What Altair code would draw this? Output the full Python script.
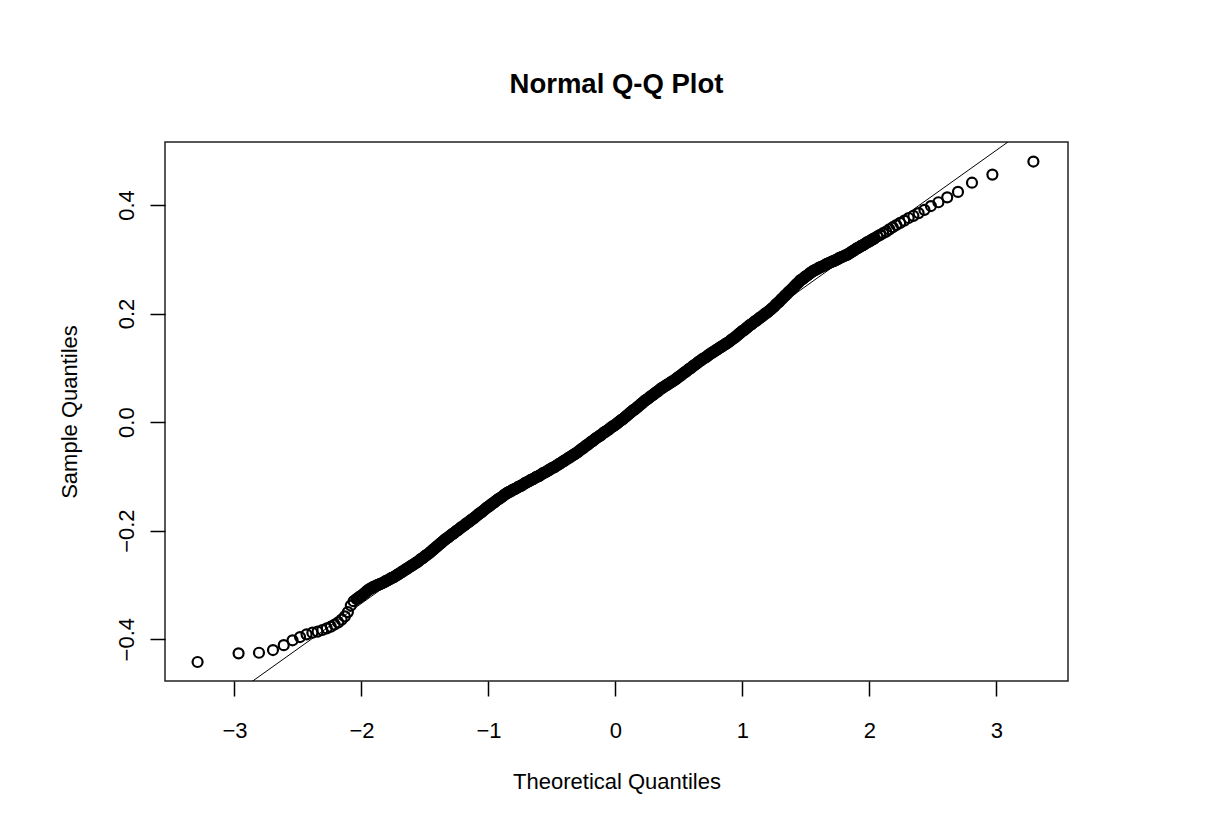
import altair as alt
import pandas as pd

# ---- data (theoretical vs sample quantiles) ----
left_tail_x = [-3.2905, -2.9677, -2.8070, -2.6968, -2.6121, -2.5427, -2.4838, -2.4324,
               -2.3867, -2.3456, -2.3081, -2.2735, -2.2414, -2.2114, -2.1831, -2.1564,
               -2.1311, -2.1070, -2.0840, -2.0619]
left_tail_y = [-0.442, -0.426, -0.425, -0.420, -0.411, -0.402, -0.396, -0.391,
               -0.388, -0.386, -0.383, -0.380, -0.377, -0.373, -0.369, -0.364,
               -0.358, -0.350, -0.338, -0.330]

mid_x = [
    -2.04, -2.03, -2.02, -2.01, -2.00, -1.99, -1.98, -1.97, -1.96, -1.95,
    -1.94, -1.93, -1.92, -1.91, -1.90, -1.89, -1.88, -1.87, -1.86, -1.85,
    -1.84, -1.83, -1.82, -1.81, -1.80, -1.79, -1.78, -1.77, -1.76, -1.75,
    -1.74, -1.73, -1.72, -1.71, -1.70, -1.69, -1.68, -1.67, -1.66, -1.65,
    -1.64, -1.63, -1.62, -1.61, -1.60, -1.59, -1.58, -1.57, -1.56, -1.55,
    -1.54, -1.53, -1.52, -1.51, -1.50, -1.49, -1.48, -1.47, -1.46, -1.45,
    -1.44, -1.43, -1.42, -1.41, -1.40, -1.39, -1.38, -1.37, -1.36, -1.35,
    -1.34, -1.33, -1.32, -1.31, -1.30, -1.29, -1.28, -1.27, -1.26, -1.25,
    -1.24, -1.23, -1.22, -1.21, -1.20, -1.19, -1.18, -1.17, -1.16, -1.15,
    -1.14, -1.13, -1.12, -1.11, -1.10, -1.09, -1.08, -1.07, -1.06, -1.05,
    -1.04, -1.03, -1.02, -1.01, -1.00, -0.99, -0.98, -0.97, -0.96, -0.95,
    -0.94, -0.93, -0.92, -0.91, -0.90, -0.89, -0.88, -0.87, -0.86, -0.85,
    -0.84, -0.83, -0.82, -0.81, -0.80, -0.79, -0.78, -0.77, -0.76, -0.75,
    -0.74, -0.73, -0.72, -0.71, -0.70, -0.69, -0.68, -0.67, -0.66, -0.65,
    -0.64, -0.63, -0.62, -0.61, -0.60, -0.59, -0.58, -0.57, -0.56, -0.55,
    -0.54, -0.53, -0.52, -0.51, -0.50, -0.49, -0.48, -0.47, -0.46, -0.45,
    -0.44, -0.43, -0.42, -0.41, -0.40, -0.39, -0.38, -0.37, -0.36, -0.35,
    -0.34, -0.33, -0.32, -0.31, -0.30, -0.29, -0.28, -0.27, -0.26, -0.25,
    -0.24, -0.23, -0.22, -0.21, -0.20, -0.19, -0.18, -0.17, -0.16, -0.15,
    -0.14, -0.13, -0.12, -0.11, -0.10, -0.09, -0.08, -0.07, -0.06, -0.05,
    -0.04, -0.03, -0.02, -0.01, 0.00, 0.01, 0.02, 0.03, 0.04, 0.05,
    0.06, 0.07, 0.08, 0.09, 0.10, 0.11, 0.12, 0.13, 0.14, 0.15,
    0.16, 0.17, 0.18, 0.19, 0.20, 0.21, 0.22, 0.23, 0.24, 0.25,
    0.26, 0.27, 0.28, 0.29, 0.30, 0.31, 0.32, 0.33, 0.34, 0.35,
    0.36, 0.37, 0.38, 0.39, 0.40, 0.41, 0.42, 0.43, 0.44, 0.45,
    0.46, 0.47, 0.48, 0.49, 0.50, 0.51, 0.52, 0.53, 0.54, 0.55,
    0.56, 0.57, 0.58, 0.59, 0.60, 0.61, 0.62, 0.63, 0.64, 0.65,
    0.66, 0.67, 0.68, 0.69, 0.70, 0.71, 0.72, 0.73, 0.74, 0.75,
    0.76, 0.77, 0.78, 0.79, 0.80, 0.81, 0.82, 0.83, 0.84, 0.85,
    0.86, 0.87, 0.88, 0.89, 0.90, 0.91, 0.92, 0.93, 0.94, 0.95,
    0.96, 0.97, 0.98, 0.99, 1.00, 1.01, 1.02, 1.03, 1.04, 1.05,
    1.06, 1.07, 1.08, 1.09, 1.10, 1.11, 1.12, 1.13, 1.14, 1.15,
    1.16, 1.17, 1.18, 1.19, 1.20, 1.21, 1.22, 1.23, 1.24, 1.25,
    1.26, 1.27, 1.28, 1.29, 1.30, 1.31, 1.32, 1.33, 1.34, 1.35,
    1.36, 1.37, 1.38, 1.39, 1.40, 1.41, 1.42, 1.43, 1.44, 1.45,
    1.46, 1.47, 1.48, 1.49, 1.50, 1.51, 1.52, 1.53, 1.54, 1.55,
    1.56, 1.57, 1.58, 1.59, 1.60, 1.61, 1.62, 1.63, 1.64, 1.65,
    1.66, 1.67, 1.68, 1.69, 1.70, 1.71, 1.72, 1.73, 1.74, 1.75,
    1.76, 1.77, 1.78, 1.79, 1.80, 1.81, 1.82, 1.83, 1.84, 1.85,
    1.86, 1.87, 1.88, 1.89, 1.90, 1.91, 1.92, 1.93, 1.94, 1.95,
    1.96, 1.97, 1.98, 1.99, 2.00, 2.01, 2.02, 2.03, 2.04,
]
mid_y = [
    -0.326, -0.325, -0.323, -0.321, -0.320, -0.318, -0.316, -0.314, -0.312, -0.310,
    -0.308, -0.307, -0.306, -0.304, -0.303, -0.302, -0.301, -0.300, -0.299, -0.298,
    -0.297, -0.296, -0.295, -0.293, -0.292, -0.291, -0.290, -0.288, -0.287, -0.286,
    -0.285, -0.283, -0.282, -0.280, -0.279, -0.277, -0.276, -0.274, -0.273, -0.271,
    -0.270, -0.268, -0.267, -0.265, -0.264, -0.262, -0.261, -0.259, -0.258, -0.256,
    -0.254, -0.252, -0.251, -0.249, -0.247, -0.245, -0.244, -0.242, -0.240, -0.238,
    -0.236, -0.234, -0.232, -0.230, -0.228, -0.226, -0.224, -0.222, -0.220, -0.218,
    -0.216, -0.214, -0.213, -0.211, -0.209, -0.207, -0.206, -0.204, -0.202, -0.200,
    -0.199, -0.197, -0.195, -0.193, -0.192, -0.190, -0.188, -0.186, -0.185, -0.183,
    -0.181, -0.179, -0.178, -0.176, -0.174, -0.172, -0.170, -0.168, -0.167, -0.165,
    -0.163, -0.161, -0.159, -0.157, -0.156, -0.154, -0.152, -0.150, -0.149, -0.147,
    -0.145, -0.143, -0.142, -0.140, -0.139, -0.137, -0.135, -0.133, -0.132, -0.130,
    -0.129, -0.128, -0.127, -0.125, -0.124, -0.123, -0.122, -0.120, -0.119, -0.118,
    -0.117, -0.115, -0.114, -0.112, -0.111, -0.110, -0.109, -0.107, -0.106, -0.105,
    -0.104, -0.102, -0.101, -0.100, -0.099, -0.097, -0.096, -0.094, -0.093, -0.092,
    -0.091, -0.089, -0.088, -0.086, -0.085, -0.084, -0.083, -0.081, -0.080, -0.078,
    -0.077, -0.075, -0.074, -0.072, -0.071, -0.069, -0.068, -0.066, -0.065, -0.063,
    -0.062, -0.060, -0.059, -0.057, -0.056, -0.054, -0.052, -0.050, -0.049, -0.047,
    -0.045, -0.043, -0.042, -0.040, -0.038, -0.036, -0.035, -0.033, -0.031, -0.029,
    -0.028, -0.026, -0.025, -0.023, -0.021, -0.019, -0.018, -0.016, -0.015, -0.013,
    -0.011, -0.009, -0.008, -0.006, -0.005, -0.003, -0.001, 0.001, 0.003, 0.004,
    0.006, 0.008, 0.010, 0.012, 0.014, 0.016, 0.018, 0.020, 0.022, 0.023,
    0.025, 0.027, 0.029, 0.031, 0.033, 0.035, 0.037, 0.039, 0.041, 0.042,
    0.044, 0.046, 0.048, 0.049, 0.051, 0.053, 0.055, 0.056, 0.058, 0.060,
    0.062, 0.063, 0.065, 0.066, 0.068, 0.069, 0.071, 0.072, 0.074, 0.075,
    0.077, 0.078, 0.080, 0.082, 0.084, 0.085, 0.087, 0.089, 0.091, 0.092,
    0.094, 0.096, 0.098, 0.099, 0.101, 0.103, 0.105, 0.106, 0.108, 0.110,
    0.112, 0.113, 0.115, 0.117, 0.118, 0.119, 0.121, 0.123, 0.125, 0.126,
    0.128, 0.129, 0.131, 0.132, 0.134, 0.135, 0.137, 0.138, 0.140, 0.141,
    0.143, 0.144, 0.146, 0.147, 0.149, 0.151, 0.153, 0.154, 0.156, 0.158,
    0.160, 0.162, 0.164, 0.166, 0.168, 0.169, 0.171, 0.173, 0.175, 0.177,
    0.179, 0.180, 0.182, 0.184, 0.186, 0.187, 0.189, 0.191, 0.193, 0.194,
    0.196, 0.198, 0.200, 0.201, 0.203, 0.205, 0.207, 0.209, 0.211, 0.213,
    0.216, 0.218, 0.220, 0.222, 0.225, 0.227, 0.229, 0.232, 0.234, 0.236,
    0.239, 0.241, 0.243, 0.245, 0.248, 0.250, 0.253, 0.255, 0.257, 0.260,
    0.262, 0.263, 0.265, 0.267, 0.269, 0.270, 0.272, 0.274, 0.276, 0.277,
    0.279, 0.280, 0.281, 0.282, 0.284, 0.285, 0.286, 0.287, 0.288, 0.289,
    0.291, 0.292, 0.293, 0.294, 0.295, 0.296, 0.297, 0.298, 0.299, 0.300,
    0.302, 0.303, 0.304, 0.305, 0.306, 0.307, 0.308, 0.309, 0.311, 0.312,
    0.314, 0.315, 0.317, 0.318, 0.320, 0.321, 0.322, 0.324, 0.325, 0.326,
    0.328, 0.329, 0.331, 0.332, 0.333, 0.335, 0.336, 0.337, 0.339,
]

right_tail_x = [2.0619, 2.0840, 2.1070, 2.1311, 2.1564, 2.1831, 2.2114, 2.2414,
                2.2735, 2.3081, 2.3456, 2.3867, 2.4324, 2.4838, 2.5427, 2.6121,
                2.6968, 2.8070, 2.9677, 3.2905]
right_tail_y = [0.342, 0.345, 0.348, 0.351, 0.355, 0.359, 0.363, 0.367,
                0.371, 0.376, 0.380, 0.385, 0.391, 0.398, 0.405, 0.414,
                0.424, 0.441, 0.456, 0.480]

x_ticks = [-3, -2, -1, 0, 1, 2, 3]
y_ticks = [-0.4, -0.2, 0.0, 0.2, 0.4]

# reference line (qqline) parameters
qq_slope = 0.167
qq_intercept = 0.0
line_x = [-4.0, 4.0]

x_domain = [-3.547, 3.563]
y_domain = [-0.477, 0.516]

FONT = "Liberation Sans"

pts = pd.DataFrame({
    "theoretical": left_tail_x + mid_x + right_tail_x,
    "sample": left_tail_y + mid_y + right_tail_y,
})
line_df = pd.DataFrame({"theoretical": line_x})

xscale = alt.Scale(domain=x_domain, nice=False, zero=False)
yscale = alt.Scale(domain=y_domain, nice=False, zero=False)

xaxis = alt.Axis(
    values=x_ticks, format="d", title="Theoretical Quantiles", grid=False, domain=False,
    tickSize=15, tickWidth=1.5, tickColor="black",
    labelFont=FONT, labelFontSize=22, labelColor="black", labelPadding=24,
    titleFont=FONT, titleFontSize=22, titleFontWeight="normal", titleColor="black",
    titlePadding=30, labelFlush=False,
)
yaxis = alt.Axis(
    values=y_ticks, format=".1f", title="Sample Quantiles", grid=False, domain=False,
    tickSize=15, tickWidth=1.5, tickColor="black",
    labelFont=FONT, labelFontSize=22, labelColor="black", labelPadding=12,
    labelAngle=270, labelAlign="center", labelBaseline="bottom",
    titleFont=FONT, titleFontSize=22, titleFontWeight="normal", titleColor="black",
    titlePadding=34, labelFlush=False,
)

points = alt.Chart(pts).mark_point(
    shape="circle", filled=False, size=100, strokeWidth=2.2, color="black", opacity=1
).encode(
    x=alt.X("theoretical:Q", scale=xscale, axis=xaxis),
    y=alt.Y("sample:Q", scale=yscale, axis=yaxis),
)

qqline = alt.Chart(line_df).transform_calculate(
    fitted=f"{qq_intercept} + {qq_slope} * datum.theoretical"
).mark_line(color="black", strokeWidth=1, clip=True).encode(
    x=alt.X("theoretical:Q", scale=xscale),
    y=alt.Y("fitted:Q", scale=yscale),
)

chart = alt.layer(points, qqline).properties(
    width=903,
    height=539,
    background="white",
    title=alt.TitleParams(
        "Normal Q-Q Plot", font=FONT, fontSize=27.5, fontWeight="bold", color="black",
        anchor="middle", frame="group", baseline="alphabetic", offset=22,
    ),
    autosize=alt.AutoSizeParams(type="none"),
    padding={"left": 157, "top": 134, "right": 140, "bottom": 130},
).configure_view(
    stroke="#222222", strokeWidth=1.5
)

chart.save("out.html", embed_options={"renderer": "svg", "actions": False})
